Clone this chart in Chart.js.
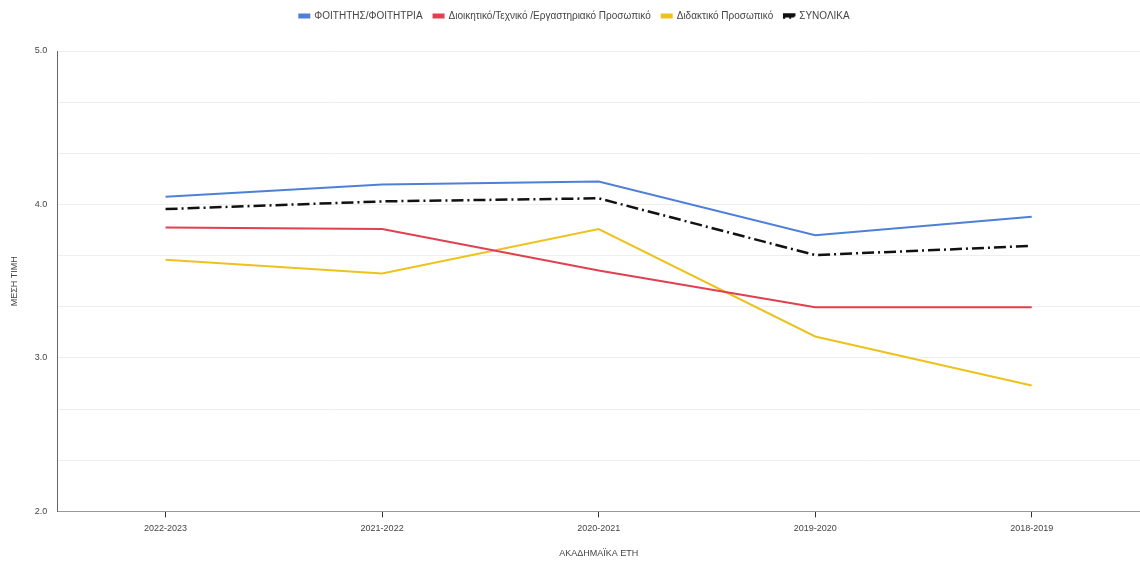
<!DOCTYPE html>
<html>
<head>
<meta charset="utf-8">
<script src="https://cdn.jsdelivr.net/npm/chart.js@4"></script>
<style>
  html, body { margin: 0; padding: 0; background: #fff; }
  #wrap { width: 1140px; height: 566px; position: relative; }
</style>
</head>
<body>
<div id="wrap"><canvas id="meanChart"></canvas></div>
<script>
// Academic years (x axis)
const years = ['2022-2023', '2021-2022', '2020-2021', '2019-2020', '2018-2019'];

// Series values (mean score)
const students = [4.05, 4.13, 4.15, 3.80, 3.92];
const adminStaff = [3.85, 3.84, 3.57, 3.33, 3.33];
const teachingStaff = [3.64, 3.55, 3.84, 3.14, 2.82];
const overall = [3.97, 4.02, 4.04, 3.67, 3.73];

// Y axis range
const yMin = 2;
const yMax = 5;

// extra room below the legend
const legendSpacer = {
    id: 'legendSpacer',
    beforeInit(chart) {
        const fit = chart.legend.fit;
        chart.legend.fit = function() {
            fit.bind(chart.legend)();
            this.height += 20;
        };
    }
};

document.addEventListener('DOMContentLoaded', function() {
    const ctx = document.getElementById('meanChart');
    Chart.defaults.font.family = 'Arial, "Liberation Sans", sans-serif';
    Chart.defaults.color = '#555';

    new Chart(ctx.getContext('2d'), {
        type: 'line',
        data: {
            labels: years,
            datasets: [{
                label: 'ΦΟΙΤΗΤΗΣ/ΦΟΙΤΗΤΡΙΑ',
                data: students,
                borderColor: '#4f80d8',
                backgroundColor: '#4f80d8',
                borderWidth: 2,
                pointRadius: 0,
                tension: 0
            }, {
                label: 'Διοικητικό/Τεχνικό /Εργαστηριακό Προσωπικό',
                data: adminStaff,
                borderColor: '#e0404f',
                backgroundColor: '#e0404f',
                borderWidth: 2,
                pointRadius: 0,
                tension: 0
            }, {
                label: 'Διδακτικό Προσωπικό',
                data: teachingStaff,
                borderColor: '#eec21c',
                backgroundColor: '#eec21c',
                borderWidth: 2,
                pointRadius: 0,
                tension: 0
            }, {
                label: 'ΣΥΝΟΛΙΚΑ',
                data: overall,
                borderColor: '#111',
                backgroundColor: '#111',
                borderWidth: 2.5,
                borderDash: [12, 4, 2, 4],
                pointRadius: 0,
                tension: 0
            }]
        },
        options: {
            responsive: true,
            maintainAspectRatio: false,
            animation: false,
            layout: {
                padding: { left: 9, right: 0, top: 0, bottom: 7 }
            },
            plugins: {
                legend: {
                    position: 'top',
                    labels: {
                        boxWidth: 10,
                        boxHeight: 3,
                        padding: 11,
                        font: { size: 10 },
                        color: '#444'
                    }
                },
                tooltip: { enabled: false }
            },
            scales: {
                x: {
                    offset: true,
                    grid: {
                        drawOnChartArea: false,
                        drawTicks: true,
                        tickLength: 6,
                        color: '#333'
                    },
                    border: { color: '#999', width: 1 },
                    ticks: { font: { size: 9 }, color: '#444', padding: 6 },
                    title: {
                        display: true,
                        text: 'ΑΚΑΔΗΜΑΪΚΑ ΕΤΗ',
                        font: { size: 9 },
                        color: '#444',
                        padding: { top: 8, bottom: 0 }
                    }
                },
                y: {
                    min: yMin,
                    max: yMax,
                    grid: {
                        color: '#eeeeee',
                        drawTicks: false
                    },
                    border: { color: '#666', width: 1 },
                    ticks: {
                        stepSize: 1 / 3,
                        autoSkip: false,
                        padding: 10,
                        font: { size: 9 },
                        color: '#444',
                        callback: function(value) {
                            if (Math.abs(value - Math.round(value)) < 1e-6) {
                                return value.toFixed(1);
                            }
                            return '';
                        }
                    },
                    title: {
                        display: true,
                        text: 'ΜΕΣΗ ΤΙΜΗ',
                        font: { size: 9 },
                        color: '#444',
                        padding: { top: 0, bottom: 5 }
                    }
                }
            }
        },
        plugins: [legendSpacer]
    });
});
</script>
</body>
</html>
